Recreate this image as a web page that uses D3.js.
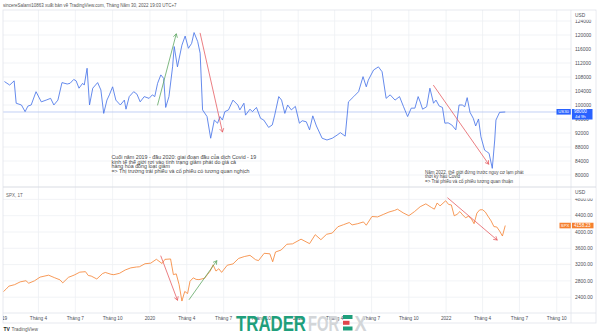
<!DOCTYPE html>
<html><head><meta charset="utf-8">
<script src="https://cdn.jsdelivr.net/npm/d3@7"></script>
<style>
html,body{margin:0;padding:0;background:#fff;}
svg{display:block;font-family:"Liberation Sans",Arial,sans-serif;}
</style></head><body>
<svg id="c" width="600" height="335"></svg>
<script>
// ---------- DATA ----------
const headerText = "sincereSalami10863 xuất bản về TradingView.com, Tháng Năm 30, 2022 19:03 UTC+7";
const bondSymbol = "US30";
const bondSub = "4d 9h";
const spxSymbol = "SPX";
const spxPaneTitle = "SPX, 1T";
const unitLabel = "USD";

const bondDates = ["2019-01-07","2019-01-20","2019-01-31","2019-02-05","2019-02-18","2019-02-27","2019-03-06","2019-03-14","2019-03-26","2019-04-08","2019-04-20","2019-05-01","2019-05-09","2019-05-19","2019-05-29","2019-06-11","2019-06-18","2019-06-27","2019-07-03","2019-07-10","2019-07-19","2019-07-23","2019-07-30","2019-08-05","2019-08-13","2019-08-25","2019-09-02","2019-09-09","2019-09-17","2019-09-23","2019-10-01","2019-10-09","2019-10-20","2019-10-30","2019-11-03","2019-11-11","2019-11-22","2019-11-30","2019-12-08","2019-12-18","2019-12-30","2020-01-07","2020-01-13","2020-01-20","2020-01-28","2020-02-04","2020-02-09","2020-02-17","2020-02-26","2020-03-01","2020-03-09","2020-03-20","2020-03-28","2020-04-05","2020-04-13","2020-04-19","2020-04-28","2020-05-04","2020-05-10","2020-05-21","2020-05-30","2020-06-08","2020-06-16","2020-06-22","2020-06-28","2020-07-04","2020-07-13","2020-07-24","2020-08-05","2020-08-10","2020-08-20","2020-08-24","2020-09-04","2020-09-10","2020-09-20","2020-09-30","2020-10-08","2020-10-20","2020-10-29","2020-11-04","2020-11-14","2020-11-21","2020-11-29","2020-12-06","2020-12-15","2020-12-25","2021-01-04","2021-01-11","2021-01-21","2021-01-29","2021-02-06","2021-02-15","2021-03-01","2021-03-13","2021-03-26","2021-04-07","2021-04-15","2021-04-27","2021-05-05","2021-05-18","2021-05-30","2021-06-10","2021-06-18","2021-06-23","2021-07-06","2021-07-18","2021-07-27","2021-08-06","2021-08-16","2021-08-28","2021-09-08","2021-09-18","2021-09-28","2021-10-07","2021-10-16","2021-10-24","2021-10-29","2021-11-04","2021-11-14","2021-11-22","2021-12-01","2021-12-07","2021-12-15","2021-12-23","2021-12-29","2022-01-06","2022-01-15","2022-01-25","2022-02-02","2022-02-10","2022-02-16","2022-02-22","2022-03-01","2022-03-09","2022-03-15","2022-03-22","2022-03-28","2022-04-06","2022-04-11","2022-04-17","2022-04-25","2022-05-01","2022-05-04","2022-05-13","2022-05-27"];
const bondValues = [106700,105700,106900,100500,100000,98100,99700,100000,103800,100900,101400,101900,100000,101400,106400,106000,106200,107300,106900,104800,106200,105700,110500,100000,104800,106400,104300,97600,101400,102900,105200,101400,100000,101400,98800,102400,103800,103100,100900,102400,101900,102900,102400,106200,108600,107600,99300,102400,110900,116700,110900,117100,119700,116200,117600,120700,118100,114800,98600,96700,90500,95700,94800,96700,95700,98100,98600,101400,100000,98600,100500,97100,98800,98100,99300,96200,95700,93600,94300,97100,102400,101400,97600,100000,98600,99600,94800,95500,95200,92900,96900,94000,90500,90000,90500,91400,92100,91100,100900,102400,103800,108100,105200,107100,110000,110900,109500,101900,102900,101400,102400,99500,96700,99100,99100,102400,100900,98800,99500,104800,100500,101400,99700,99300,94800,94900,94300,92900,100000,100000,99500,102100,97900,96200,94000,96000,90900,87100,86700,86200,81900,90000,95700,97900,98000];

const spxDates = ["2019-01-04","2019-01-11","2019-01-18","2019-02-01","2019-02-15","2019-03-01","2019-03-08","2019-03-22","2019-04-05","2019-04-26","2019-05-10","2019-05-24","2019-05-31","2019-06-14","2019-06-28","2019-07-12","2019-07-26","2019-08-02","2019-08-09","2019-08-23","2019-09-06","2019-09-13","2019-09-27","2019-10-04","2019-10-18","2019-11-01","2019-11-15","2019-11-29","2019-12-06","2019-12-20","2020-01-03","2020-01-17","2020-01-31","2020-02-07","2020-02-21","2020-02-28","2020-03-06","2020-03-13","2020-03-20","2020-03-27","2020-04-03","2020-04-09","2020-04-17","2020-04-24","2020-05-01","2020-05-15","2020-05-22","2020-05-29","2020-06-05","2020-06-12","2020-06-19","2020-06-26","2020-07-10","2020-07-24","2020-08-07","2020-08-21","2020-09-04","2020-09-18","2020-09-25","2020-10-09","2020-10-23","2020-10-30","2020-11-06","2020-11-20","2020-12-04","2020-12-18","2021-01-08","2021-01-29","2021-02-12","2021-02-26","2021-03-12","2021-03-26","2021-04-09","2021-04-23","2021-05-07","2021-05-14","2021-05-28","2021-06-11","2021-06-18","2021-07-02","2021-07-16","2021-07-30","2021-08-13","2021-08-27","2021-09-03","2021-09-17","2021-10-01","2021-10-15","2021-10-29","2021-11-12","2021-11-26","2021-12-03","2021-12-10","2021-12-17","2021-12-31","2022-01-07","2022-01-14","2022-01-21","2022-01-28","2022-02-04","2022-02-11","2022-02-18","2022-02-25","2022-03-04","2022-03-11","2022-03-18","2022-03-25","2022-04-01","2022-04-08","2022-04-14","2022-04-22","2022-04-29","2022-05-06","2022-05-13","2022-05-20","2022-05-27"];
const spxValues = [2532,2596,2671,2707,2776,2804,2743,2801,2893,2940,2881,2826,2752,2887,2942,3014,3026,2932,2919,2847,2979,3007,2962,2952,2986,3067,3120,3141,3146,3221,3235,3330,3226,3328,3338,2954,2972,2711,2305,2541,2489,2790,2875,2837,2831,2864,2955,3044,3194,3041,3098,3009,3185,3216,3351,3397,3427,3319,3298,3477,3465,3270,3509,3558,3699,3709,3824,3714,3934,3811,3943,3974,4129,4180,4232,4174,4204,4247,4166,4380,4370,4430,4490,4530,4560,4470,4400,4500,4620,4690,4600,4560,4712,4640,4766,4677,4663,4398,4432,4501,4419,4349,4385,4329,4204,4463,4543,4546,4488,4392,4272,4132,4123,4024,3901,4158.23];

const bondTicks = [80000,84000,88000,92000,96000,100000,104000,108000,112000,116000,120000,124000];
const spxTicks = [2400,2800,3200,3600,4000,4400,4800];
const timeTickDates = ["2019-01-01","2019-04-01","2019-07-01","2019-10-01","2020-01-01","2020-04-01","2020-07-01","2020-10-01","2021-01-01","2021-04-01","2021-07-01","2021-10-01","2022-01-01","2022-04-01","2022-07-01","2022-10-01"];
const timeTickLabels = ["2019","Tháng 4","Tháng 7","Tháng 10","2020","Tháng 4","Tháng 7","Tháng 10","2021","Tháng 4","Tháng 7","Tháng 10","2022","Tháng 4","Tháng 7","Tháng 10"];

// arrows: [startDate, startValue, endDate, endValue]
const bondArrowsGreen = [["2020-01-20",100000,"2020-03-06",120300]];
const bondArrowsRed = [["2020-05-04",120500,"2020-06-28",92300],["2021-12-01",105600,"2022-04-16",83100]];
const spxArrowsGreen = [["2020-04-07",2344,"2020-06-14",3294]];
const spxArrowsRed = [["2020-01-28",3410,"2020-03-09",2327],["2022-01-05",4836,"2022-05-07",3803]];

const note1 = ["Cuối năm 2019 - đầu 2020: giai đoạn đầu của dịch Covid - 19","kinh tế thế giới rơi vào tình trạng giảm phát do giá cả","hàng hóa đồng loạt giảm","=> Thị trường trái phiếu và cổ phiếu có tương quan nghịch"];
const note2 = ["Năm 2022, thế giới đứng trước nguy cơ lạm phát","thời kỳ hậu Covid","=> Trái phiếu và cổ phiếu tương quan thuận"];

// ---------- LAYOUT ----------
const L = 3, R = 596, PR = 571, T = 10, MID = 187, BOT = 313, AXB = 323;
const parse = d3.utcParse("%Y-%m-%d");
const svg = d3.select("#c");

const x = d3.scaleUtc().domain([Date.UTC(2019,0,1), Date.UTC(2023,0,1)]).range([2, 594]);
const yB = d3.scaleLinear().domain([76571, 127143]).range([MID, T]);
const yS = d3.scaleLinear().domain([2012, 5104]).range([BOT, MID]);

const BLUE = "#2962ff", LINEBLUE = "#4a76e8", ORANGE = "#f5802f", RED = "#e4545a", GREEN = "#55a15a";
const GRID = "#eef0f4", BORDER = "#e0e3eb", TXT = "#4c4f57";

svg.append("text").attr("x", 3).attr("y", 6.6).attr("font-size", 4.5).attr("fill", "#555").text(headerText);

svg.append("defs").append("clipPath").attr("id","plot").append("rect")
  .attr("x", L).attr("y", T).attr("width", PR - L).attr("height", BOT - T);
svg.select("defs").append("clipPath").attr("id","axisclip").append("rect")
  .attr("x", L).attr("y", BOT).attr("width", PR - L).attr("height", AXB - BOT);

const g = svg.append("g").attr("clip-path","url(#plot)");

// vertical gridlines
const tDates = timeTickDates.map(parse);
g.selectAll(".vg").data(tDates).join("line")
  .attr("x1", d => x(d)).attr("x2", d => x(d)).attr("y1", T).attr("y2", BOT)
  .attr("stroke", GRID).attr("stroke-width", 0.8);
// horizontal gridlines
g.selectAll(".hgb").data(bondTicks).join("line")
  .attr("x1", L).attr("x2", PR).attr("y1", d => yB(d)).attr("y2", d => yB(d))
  .attr("stroke", GRID).attr("stroke-width", 0.8);
g.selectAll(".hgs").data(spxTicks).join("line")
  .attr("x1", L).attr("x2", PR).attr("y1", d => yS(d)).attr("y2", d => yS(d))
  .attr("stroke", GRID).attr("stroke-width", 0.8);

// price line top
const lastB = bondValues[bondValues.length-1];
const lastS = spxValues[spxValues.length-1];
g.append("line").attr("x1", L).attr("x2", PR).attr("y1", yB(lastB)).attr("y2", yB(lastB))
  .attr("stroke", "#b3c5f2").attr("stroke-width", 0.8);

// series
const bondData = bondDates.map((d,i) => [parse(d), bondValues[i]]);
const spxData = spxDates.map((d,i) => [parse(d), spxValues[i]]);
g.append("path").datum(bondData)
  .attr("d", d3.line().x(d => x(d[0])).y(d => yB(d[1])))
  .attr("fill","none").attr("stroke", LINEBLUE).attr("stroke-width", 0.85).attr("stroke-linejoin","round");
g.append("path").datum(spxData)
  .attr("d", d3.line().x(d => x(d[0])).y(d => yS(d[1])))
  .attr("fill","none").attr("stroke", ORANGE).attr("stroke-width", 0.8).attr("stroke-linejoin","round");

// arrows
function arrow(a, ys, color) {
  const x1 = x(parse(a[0])), y1 = ys(a[1]), x2 = x(parse(a[2])), y2 = ys(a[3]);
  const ang = Math.atan2(y2 - y1, x2 - x1), len = 3.6, sp = 0.55;
  const p = d3.path();
  p.moveTo(x1, y1); p.lineTo(x2, y2);
  p.moveTo(x2 - len*Math.cos(ang - sp), y2 - len*Math.sin(ang - sp)); p.lineTo(x2, y2);
  p.lineTo(x2 - len*Math.cos(ang + sp), y2 - len*Math.sin(ang + sp));
  g.append("path").attr("d", p.toString()).attr("fill","none").attr("stroke", color)
    .attr("stroke-width", 0.75).attr("stroke-linecap","round");
}
bondArrowsGreen.forEach(a => arrow(a, yB, GREEN));
bondArrowsRed.forEach(a => arrow(a, yB, RED));
spxArrowsGreen.forEach(a => arrow(a, yS, GREEN));
spxArrowsRed.forEach(a => arrow(a, yS, RED));

// notes, sized so their first line spans the reference width
function note(lines, x0, y0, gap, targetW) {
  const base = 5;
  const probe = g.append("text").attr("font-size", base).text(lines[0]);
  const fs = base * targetW / probe.node().getComputedTextLength();
  probe.remove();
  lines.forEach((t,i) => g.append("text").attr("x", x0).attr("y", y0 + i*gap)
    .attr("font-size", fs).attr("fill", "#474747").text(t));
}
note(note1, 111.5, 158.8, 4.7, 145);
note(note2, 425, 173.6, 4.5, 99);

// pane title
svg.append("text").attr("x", 6).attr("y", 196.5).attr("font-size", 4.5).attr("fill", "#666").text(spxPaneTitle);

// frame & separators
svg.append("rect").attr("x", L).attr("y", T).attr("width", R - L).attr("height", AXB - T)
  .attr("fill","none").attr("stroke", BORDER).attr("stroke-width", 0.8);
svg.append("line").attr("x1", PR).attr("x2", PR).attr("y1", T).attr("y2", AXB).attr("stroke", BORDER).attr("stroke-width", 0.8);
svg.append("line").attr("x1", L).attr("x2", R).attr("y1", MID).attr("y2", MID).attr("stroke", "#d9dce3").attr("stroke-width", 1);
svg.append("line").attr("x1", L).attr("x2", R).attr("y1", BOT).attr("y2", BOT).attr("stroke", BORDER).attr("stroke-width", 0.8);

// price axes
const fmtB = d3.format("d"), fmtS = d3.format(".2f");
svg.selectAll(".bl").data(bondTicks).join("text")
  .attr("x", 575).attr("y", d => yB(d)).attr("dy", "0.35em").attr("font-size", 4.9).attr("fill", TXT).text(d => fmtB(d));
svg.selectAll(".sl").data(spxTicks).join("text")
  .attr("x", 575).attr("y", d => yS(d)).attr("dy", "0.35em").attr("font-size", 4.9).attr("fill", TXT).text(d => fmtS(d));
[[T + 1, 8.8], [MID + 1, 10.5]].forEach(([yy, h]) => {
  svg.append("rect").attr("x", PR + 0.6).attr("y", yy).attr("width", R - PR - 1.2).attr("height", h).attr("fill", "#fff");
  svg.append("text").attr("x", 575).attr("y", yy + 4.4).attr("dy","0.35em").attr("font-size", 4.8).attr("fill", TXT).text(unitLabel);
});

// last price labels
const yb = yB(lastB);
svg.append("rect").attr("x", 556.5).attr("y", yb - 3).attr("width", 14.3).attr("height", 5.6).attr("fill", BLUE);
svg.append("text").attr("x", 563.6).attr("y", yb - 0.2).attr("dy","0.35em").attr("text-anchor","middle").attr("font-size", 4.3).attr("fill","#fff").text(bondSymbol);
svg.append("rect").attr("x", 572).attr("y", yb - 3).attr("width", 20.5).attr("height", 10.5).attr("fill", BLUE);
svg.append("text").attr("x", 574).attr("y", yb - 0.2).attr("dy","0.35em").attr("font-size", 4.6).attr("fill","#fff").text(fmtB(lastB));
svg.append("text").attr("x", 575).attr("y", yb + 4.6).attr("dy","0.35em").attr("font-size", 4.3).attr("fill","#fff").text(bondSub);

const ys = yS(lastS);
svg.append("rect").attr("x", 559.5).attr("y", ys - 2.8).attr("width", 11.3).attr("height", 5.6).attr("fill", ORANGE);
svg.append("text").attr("x", 565.1).attr("y", ys - 0.1).attr("dy","0.35em").attr("text-anchor","middle").attr("font-size", 4.3).attr("fill","#fff").text(spxSymbol);
svg.append("rect").attr("x", 572).attr("y", ys - 2.8).attr("width", 21.5).attr("height", 5.6).attr("fill", ORANGE);
svg.append("text").attr("x", 574).attr("y", ys - 0.1).attr("dy","0.35em").attr("font-size", 4.6).attr("fill","#fff").text(fmtS(lastS));

// time axis
svg.append("g").attr("clip-path","url(#axisclip)").selectAll("text").data(tDates).join("text")
  .attr("x", d => x(d)).attr("y", 318.3).attr("dy","0.35em").attr("text-anchor","middle")
  .attr("font-size", 4.7).attr("fill", TXT).text((d,i) => timeTickLabels[i]);

// footer logo
svg.append("text").attr("x", 3.5).attr("y", 330.5).attr("font-size", 5).attr("font-weight","bold").attr("fill","#222").text("TV");
svg.append("text").attr("x", 11.5).attr("y", 330.5).attr("font-size", 4.8).attr("fill","#555").text("TradingView");

// watermark
const wm = svg.append("g");
wm.append("text").attr("x", 236).attr("y", 330.5).attr("font-size", 22).attr("font-weight","bold")
  .attr("textLength", 70).attr("lengthAdjust","spacingAndGlyphs").attr("fill","#1f9f7c").text("TRADER");
wm.append("text").attr("x", 308).attr("y", 330.5).attr("font-size", 22).attr("font-weight","bold")
  .attr("textLength", 31).attr("lengthAdjust","spacingAndGlyphs").attr("fill","#d3d6d9").text("FOR");
wm.append("rect").attr("x", 343).attr("y", 315).attr("width", 9.5).attr("height", 4).attr("fill","#1f9f7c");
wm.append("rect").attr("x", 343).attr("y", 320.8).attr("width", 6.5).attr("height", 4).attr("fill","#e0464c");
wm.append("rect").attr("x", 343).attr("y", 326.5).attr("width", 9.5).attr("height", 4).attr("fill","#1f9f7c");
wm.append("text").attr("x", 354.5).attr("y", 330.5).attr("font-size", 22).attr("font-weight","bold")
  .attr("textLength", 12).attr("lengthAdjust","spacingAndGlyphs").attr("fill","#d3d6d9").text("X");
</script>
</body></html>
